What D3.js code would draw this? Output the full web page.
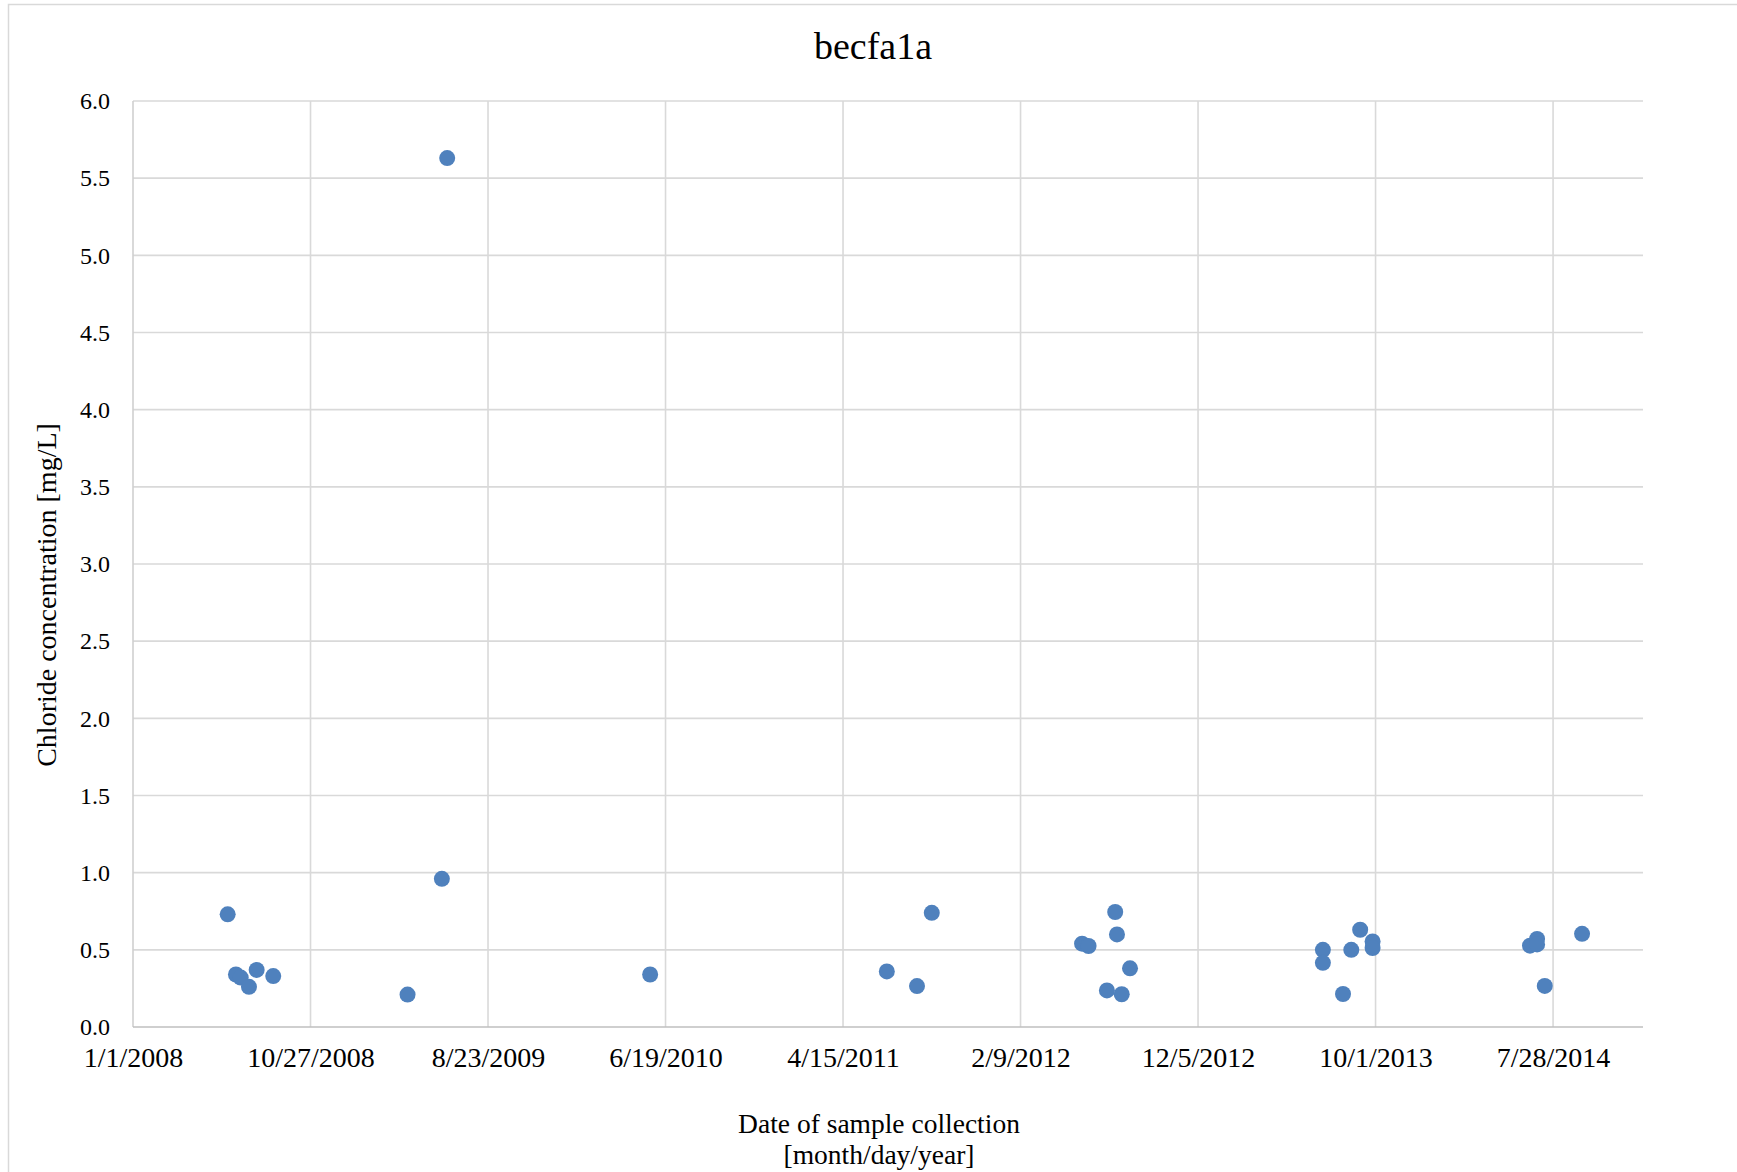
<!DOCTYPE html>
<html>
<head>
<meta charset="utf-8">
<script src="https://cdn.jsdelivr.net/npm/d3@7"></script>
<style>
  html, body { margin: 0; padding: 0; background: #fff; }
  svg { display: block; }
  text { font-family: "Liberation Serif", "DejaVu Serif", serif; fill: #000; }
</style>
</head>
<body>
<svg id="chart" width="1737" height="1172"></svg>
<script>
// Sample dates (m/d/yyyy) and chloride concentrations in mg/L
const sampleDates = [
  "6/9/2008", "6/23/2008", "7/1/2008", "7/15/2008", "7/28/2008", "8/25/2008",
  "4/9/2009", "6/6/2009", "6/15/2009",
  "5/24/2010",
  "6/28/2011", "8/18/2011", "9/12/2011",
  "5/23/2012", "6/3/2012", "7/4/2012", "7/18/2012", "7/21/2012", "7/29/2012", "8/12/2012",
  "7/4/2013", "7/4/2013", "8/7/2013", "8/21/2013", "9/5/2013", "9/26/2013", "9/26/2013",
  "6/19/2014", "7/1/2014", "7/1/2014", "7/14/2014", "9/15/2014"
];
const chlorideValues = [
  0.73, 0.34, 0.32, 0.26, 0.37, 0.33,
  0.21, 0.96, 5.63,
  0.34,
  0.36, 0.265, 0.74,
  0.54, 0.525, 0.237, 0.745, 0.60, 0.212, 0.38,
  0.50, 0.416, 0.214, 0.50, 0.63, 0.554, 0.512,
  0.527, 0.57, 0.535, 0.266, 0.604
];
// Axis ticks: every 300 days from 1/1/2008
const xTickLabels = ["1/1/2008", "10/27/2008", "8/23/2009", "6/19/2010", "4/15/2011",
                     "2/9/2012", "12/5/2012", "10/1/2013", "7/28/2014"];
const xDomainLabels = ["1/1/2008", "12/27/2014"];
const yTickValues = [0, 0.5, 1.0, 1.5, 2.0, 2.5, 3.0, 3.5, 4.0, 4.5, 5.0, 5.5, 6.0];

const titleText = "becfa1a";
const yTitle = "Chloride concentration [mg/L]";
const xTitleLines = ["Date of sample collection", "[month/day/year]"];

const parseDate = d3.utcParse("%m/%d/%Y");

const svg = d3.select("#chart");
const W = 1737, H = 1172;
const plot = { left: 133, right: 1643, top: 101, bottom: 1027 };

// chart area border
svg.append("rect")
  .attr("x", 8.5).attr("y", 4.5)
  .attr("width", W + 20).attr("height", H + 20)
  .attr("fill", "#fff").attr("stroke", "#d9d9d9").attr("stroke-width", 1.5);

const x = d3.scaleUtc()
  .domain(xDomainLabels.map(parseDate))
  .range([plot.left, plot.right]);
const y = d3.scaleLinear()
  .domain([0, 6])
  .range([plot.bottom, plot.top]);

const xTicks = xTickLabels.map(parseDate);

// horizontal gridlines
svg.append("g")
  .selectAll("line")
  .data(yTickValues.filter(v => v > 0))
  .join("line")
  .attr("x1", plot.left).attr("x2", plot.right)
  .attr("y1", d => y(d)).attr("y2", d => y(d))
  .attr("stroke", "#d9d9d9").attr("stroke-width", 1.6);

// vertical gridlines
svg.append("g")
  .selectAll("line")
  .data(xTicks.slice(1))
  .join("line")
  .attr("x1", d => x(d)).attr("x2", d => x(d))
  .attr("y1", plot.top).attr("y2", plot.bottom)
  .attr("stroke", "#d9d9d9").attr("stroke-width", 1.6);

// axis lines
svg.append("line")
  .attr("x1", plot.left).attr("x2", plot.left)
  .attr("y1", plot.top).attr("y2", plot.bottom)
  .attr("stroke", "#d0d0d0").attr("stroke-width", 1.6);
svg.append("line")
  .attr("x1", plot.left).attr("x2", plot.right)
  .attr("y1", plot.bottom).attr("y2", plot.bottom)
  .attr("stroke", "#bfbfbf").attr("stroke-width", 1.6);

// y axis tick labels
const yAxis = d3.axisLeft(y)
  .tickValues(yTickValues)
  .tickFormat(d3.format(".1f"))
  .tickSize(0)
  .tickPadding(23);
const yg = svg.append("g")
  .attr("transform", `translate(${plot.left},0)`)
  .call(yAxis);
yg.select(".domain").remove();
yg.selectAll("text")
  .attr("font-family", "Liberation Serif, serif")
  .attr("font-size", 24)
  .attr("fill", "#000");

// x axis tick labels
const xAxis = d3.axisBottom(x)
  .tickValues(xTicks)
  .tickFormat((d, i) => xTickLabels[i])
  .tickSize(0)
  .tickPadding(20);
const xg = svg.append("g")
  .attr("transform", `translate(0,${plot.bottom})`)
  .call(xAxis);
xg.select(".domain").remove();
xg.selectAll("text")
  .attr("font-family", "Liberation Serif, serif")
  .attr("font-size", 28)
  .attr("fill", "#000");

// data points
svg.append("g")
  .selectAll("circle")
  .data(sampleDates.map((d, i) => ({ date: parseDate(d), value: chlorideValues[i] })))
  .join("circle")
  .attr("cx", d => x(d.date))
  .attr("cy", d => y(d.value))
  .attr("r", 8)
  .attr("fill", "#4f81bd");

// title
svg.append("text")
  .attr("x", 873).attr("y", 59)
  .attr("text-anchor", "middle")
  .attr("font-size", 38)
  .text(titleText);

// y axis title
svg.append("text")
  .attr("transform", "translate(56,595) rotate(-90)")
  .attr("text-anchor", "middle")
  .attr("font-size", 28)
  .text(yTitle);

// x axis title
svg.append("text")
  .attr("x", 879).attr("y", 1133)
  .attr("text-anchor", "middle")
  .attr("font-size", 27.5)
  .selectAll("tspan")
  .data(xTitleLines)
  .join("tspan")
  .attr("x", 879)
  .attr("dy", (d, i) => i === 0 ? 0 : 31)
  .text(d => d);
</script>
</body>
</html>
